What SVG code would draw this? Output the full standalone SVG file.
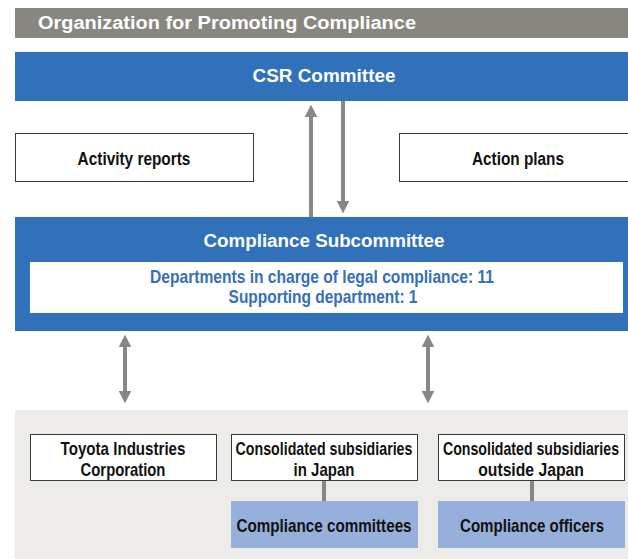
<svg xmlns="http://www.w3.org/2000/svg" width="628" height="559" viewBox="0 0 628 559">
  <defs>
    <style>
      .title { font-family: "Liberation Sans", Arial, sans-serif; font-weight: bold; fill: #ffffff; }
      .lbl { font-family: "Liberation Sans", Arial, sans-serif; font-weight: bold; font-size: 18px; fill: #111111; text-anchor: middle; }
      .blue-lbl { font-family: "Liberation Sans", Arial, sans-serif; font-weight: bold; font-size: 18px; fill: #3570b8; text-anchor: middle; }
      .band { fill: #3171b9; }
      .box { fill: #ffffff; stroke: #3a3a3a; stroke-width: 1; }
      .sub { fill: #96b0db; }
      .arrow { stroke: #878787; stroke-width: 4; fill: none; }
      .link { stroke: #878787; stroke-width: 4; }
    </style>
    <marker id="head" viewBox="0 0 12 12" refX="6" refY="6" markerWidth="3.2" markerHeight="3.2" markerUnits="strokeWidth" orient="auto-start-reverse">
      <path d="M0,0 L12,6 L0,12 z" fill="#878787"/>
    </marker>
  </defs>

  <!-- heading bar -->
  <g id="heading">
    <rect x="15" y="8" width="613" height="30" fill="#878780"/>
    <text class="title" x="38" y="29" font-size="18" textLength="378" lengthAdjust="spacingAndGlyphs">Organization for Promoting Compliance</text>
  </g>

  <!-- lower background panel -->
  <rect x="15" y="410" width="613" height="149" fill="#eeece8"/>

  <g id="csr-committee">
    <rect class="band" x="15" y="52" width="613" height="49"/>
    <text class="title" x="324" y="82" font-size="18" text-anchor="middle" textLength="143" lengthAdjust="spacingAndGlyphs">CSR Committee</text>
  </g>

  <!-- box labels use a condensed bold face: scale(0.8,1) -->
  <g id="activity-reports">
    <rect class="box" x="15.5" y="133.5" width="238" height="48"/>
    <text class="lbl" transform="translate(134,165) scale(0.8,1)" textLength="141" lengthAdjust="spacingAndGlyphs">Activity reports</text>
  </g>

  <g id="action-plans">
    <rect class="box" x="399.5" y="133.5" width="240" height="48"/>
    <text class="lbl" transform="translate(518,165) scale(0.8,1)" textLength="115" lengthAdjust="spacingAndGlyphs">Action plans</text>
  </g>

  <g id="compliance-subcommittee">
    <rect class="band" x="15" y="217" width="613" height="114"/>
    <text class="title" x="324" y="247" font-size="18" text-anchor="middle" textLength="241" lengthAdjust="spacingAndGlyphs">Compliance Subcommittee</text>
    <rect x="30" y="262" width="593" height="51" fill="#ffffff"/>
    <text class="blue-lbl" transform="translate(322,283) scale(0.8,1)" textLength="430" lengthAdjust="spacingAndGlyphs">Departments in charge of legal compliance: 11</text>
    <text class="blue-lbl" transform="translate(323,303) scale(0.8,1)" textLength="236" lengthAdjust="spacingAndGlyphs">Supporting department: 1</text>
  </g>

  <g id="toyota-industries">
    <rect class="box" x="30.5" y="434.5" width="186" height="46"/>
    <text class="lbl" transform="translate(123,455) scale(0.8,1)" textLength="156" lengthAdjust="spacingAndGlyphs">Toyota Industries</text>
    <text class="lbl" transform="translate(123,476) scale(0.8,1)" textLength="106" lengthAdjust="spacingAndGlyphs">Corporation</text>
  </g>

  <g id="subsidiaries-japan">
    <rect class="box" x="231.5" y="434.5" width="186" height="46"/>
    <text class="lbl" transform="translate(324,455) scale(0.8,1)" textLength="221" lengthAdjust="spacingAndGlyphs">Consolidated subsidiaries</text>
    <text class="lbl" transform="translate(324,476) scale(0.8,1)" textLength="76" lengthAdjust="spacingAndGlyphs">in Japan</text>
  </g>

  <g id="subsidiaries-overseas">
    <rect class="box" x="438.5" y="434.5" width="186" height="46"/>
    <text class="lbl" transform="translate(531,455) scale(0.8,1)" textLength="220" lengthAdjust="spacingAndGlyphs">Consolidated subsidiaries</text>
    <text class="lbl" transform="translate(531,476) scale(0.8,1)" textLength="132" lengthAdjust="spacingAndGlyphs">outside Japan</text>
  </g>

  <g id="compliance-committees">
    <rect class="sub" x="231" y="501" width="187" height="47"/>
    <text class="lbl" transform="translate(324,532) scale(0.8,1)" textLength="219" lengthAdjust="spacingAndGlyphs">Compliance committees</text>
  </g>

  <g id="compliance-officers">
    <rect class="sub" x="438" y="501" width="187" height="47"/>
    <text class="lbl" transform="translate(532,532) scale(0.8,1)" textLength="180" lengthAdjust="spacingAndGlyphs">Compliance officers</text>
  </g>

  <!-- connectors -->
  <g id="connectors">
    <line class="arrow" x1="311" y1="217" x2="311" y2="111" marker-end="url(#head)"/>
    <line class="arrow" x1="343" y1="101" x2="343" y2="207" marker-end="url(#head)"/>
    <line class="arrow" x1="125" y1="341" x2="125" y2="397" marker-start="url(#head)" marker-end="url(#head)"/>
    <line class="arrow" x1="428" y1="341" x2="428" y2="397" marker-start="url(#head)" marker-end="url(#head)"/>
    <line class="link" x1="324" y1="481" x2="324" y2="501"/>
    <line class="link" x1="532" y1="481" x2="532" y2="501"/>
  </g>
</svg>
